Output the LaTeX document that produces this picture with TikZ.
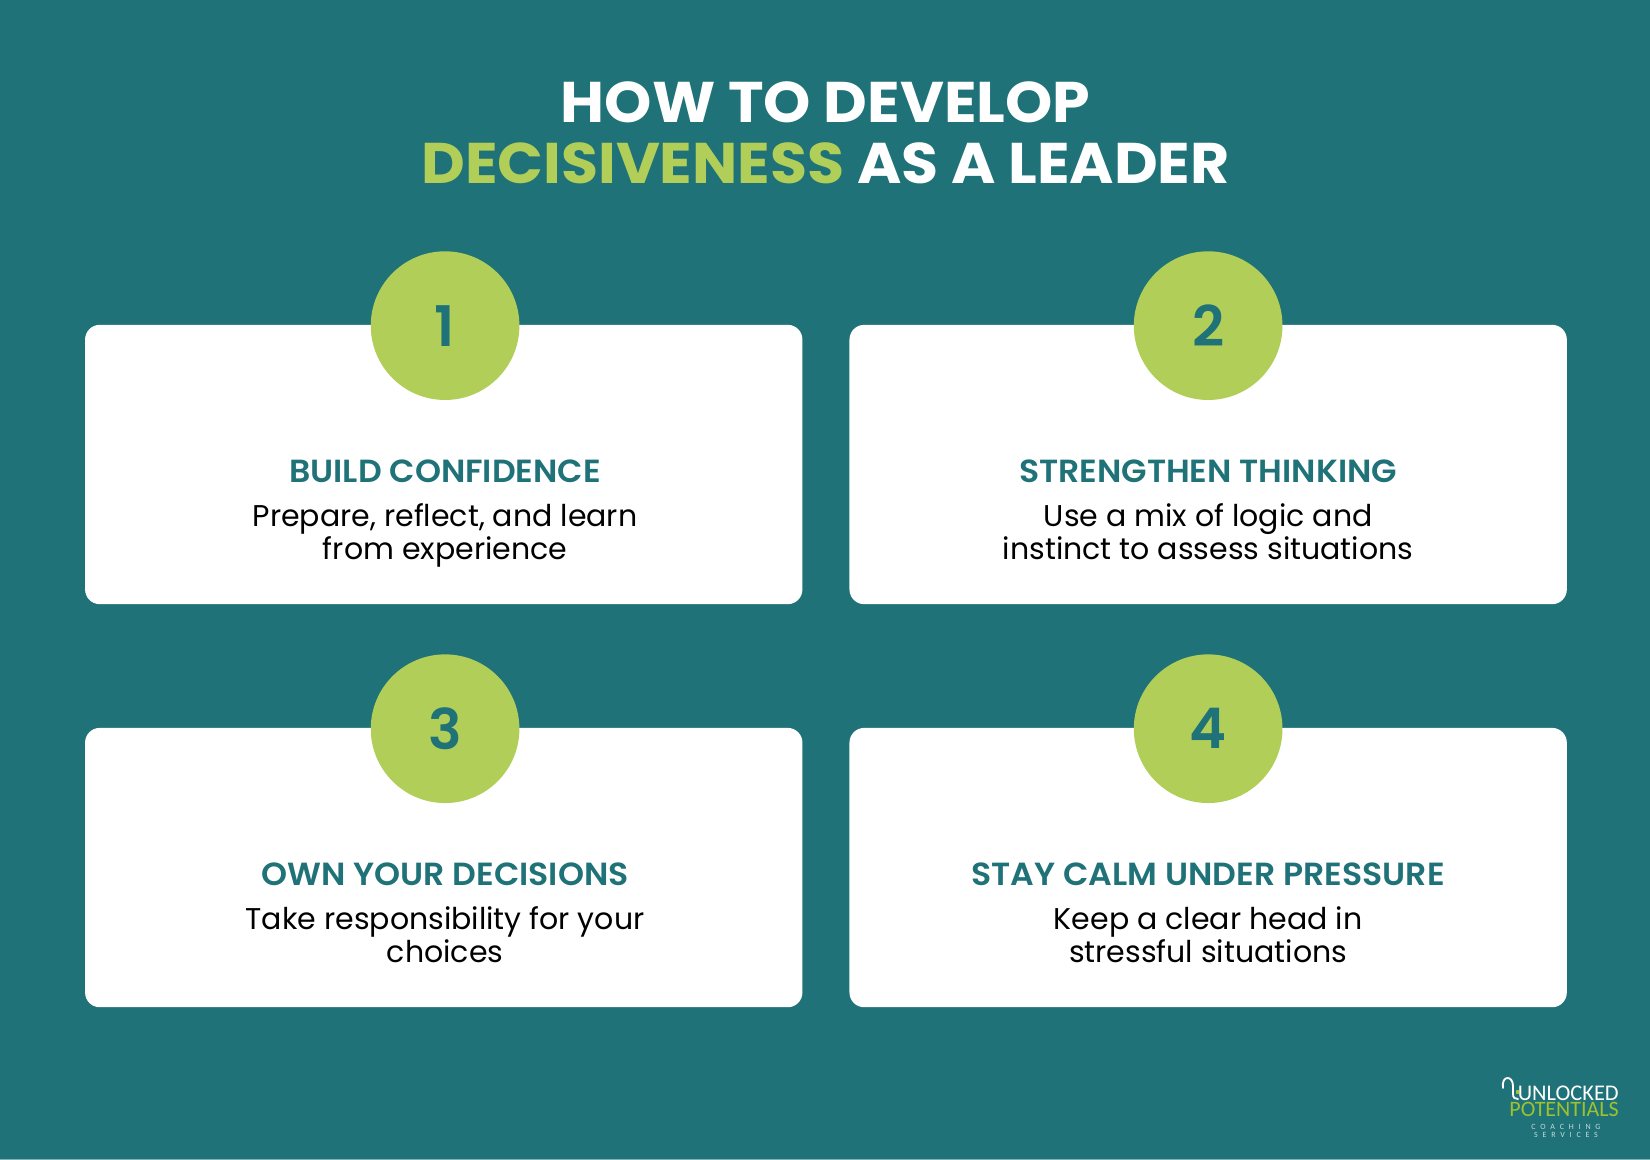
\documentclass[tikz,border=0pt]{standalone}
\usepackage{fontspec}
\setmainfont{Poppins}
\newfontfamily\semifont{Poppins SemiBold}
\newfontfamily\headfont{Poppins SemiBold}[FakeStretch=1.035]
\newfontfamily\titlefont{Poppins}[FakeStretch=1.05]
\newfontfamily\logofont{Carlito}
\newfontfamily\logospaced{Carlito}[LetterSpace=60]
\usetikzlibrary{positioning}
\definecolor{tealbg}{HTML}{1F7278}
\definecolor{limefill}{HTML}{B0CE58}
\definecolor{logogreen}{HTML}{9DC22E}
\begin{document}
\begin{tikzpicture}[x=0.75pt,y=-0.75pt,node distance=34.9pt and 34.9pt,font=\fontsize{22.5}{24.8}\selectfont]
	\tikzstyle{card}=[fill=white,rounded corners=11pt,minimum width=538pt,minimum height=209.5pt,inner sep=0pt]
	\tikzstyle{badge}=[circle,fill=limefill,text=tealbg,minimum size=111.5pt,inner sep=0pt,font=\fontsize{42}{42}\semifont]
	\tikzstyle{heading}=[text=tealbg,font=\fontsize{24}{26}\headfont]
	\tikzstyle{body}=[align=center,text=black,text depth=0pt]
	
	\fill[tealbg] (0,0) rectangle (1650,1160);
	\useasboundingbox (0,0) rectangle (1650,1160);
	\fill[white!45!tealbg] (0,1159) rectangle (1650,1160);
	
	\node[align=center,text=white,font=\fontsize{43}{45.6}\titlefont\bfseries] (title) at (825.5,133) {HOW TO DEVELOP\\\textcolor{limefill}{DECISIVENESS} AS A LEADER};
	
	\node[card]  (card1) at (443.75,464.5) {};
	\node[card]  (card2) [right=of card1] {};
	\node[card]  (card3) [below=92.4pt of card1] {};
	\node[card]  (card4) [right=of card3] {};
	
	\node[badge] (num1) at ([xshift=1pt,yshift=-0.8pt]card1.north) {1};
	\node[badge] (num2) at ([yshift=-0.8pt]card2.north) {2};
	\node[badge] (num3) at ([xshift=1pt,yshift=-0.8pt]card3.north) {3};
	\node[badge] (num4) at ([yshift=-0.8pt]card4.north) {4};
	
	\node[heading] (head1) [below=41pt of num1.south] {BUILD CONFIDENCE};
	\node[heading] (head2) [below=41pt of num2.south] {STRENGTHEN THINKING};
	\node[heading] (head3) [below=41pt of num3.south] {OWN YOUR DECISIONS};
	\node[heading] (head4) [below=41pt of num4.south] {STAY CALM UNDER PRESSURE};
	
	\node[body] (text1) [below=8.8pt of head1] {Prepare, reflect, and learn\\from experience};
	\node[body] (text2) [below=8.8pt of head2] {Use a mix of logic and\\instinct to assess situations};
	\node[body] (text3) [below=8.8pt of head3] {Take responsibility for your\\choices};
	\node[body] (text4) [below=8.8pt of head4] {Keep a clear head in\\stressful situations};
	
	% logo
	\node[text=white,inner sep=0pt,anchor=base east,font=\fontsize{16.8}{16.8}\logofont] (logo1) at (1619,1100) {UNLOCKED};
	\node[text=logogreen,inner sep=0pt,anchor=base east,font=\fontsize{16.5}{16.5}\logofont] (logo2) at (1619,1116) {POTENTIALS};
	\node[text=white!75!tealbg,inner sep=0pt,font=\fontsize{6}{6}\logospaced] (logo3) at (1566,1127) {COACHING};
	\node[text=white!75!tealbg,inner sep=0pt,font=\fontsize{6}{6}\logospaced] (logo4) at (1566,1135) {SERVICES};
	\draw[white,line width=1.4pt,line cap=round] (1503,1088) .. controls (1501,1075) and (1513,1075) .. (1513,1086) -- (1513,1094) .. controls (1513,1098) and (1515,1099) .. (1518,1099);
	\fill[logogreen] (1516,1090) rectangle (1519,1094);
\end{tikzpicture}
\end{document}
